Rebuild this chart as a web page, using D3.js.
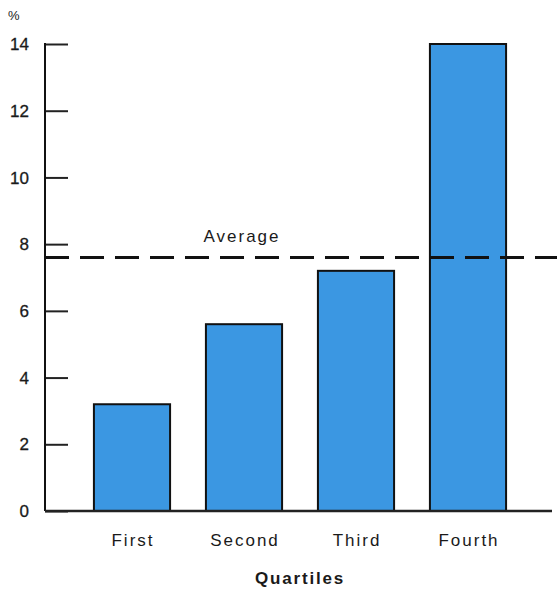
<!DOCTYPE html>
<html><head><meta charset="utf-8">
<script src="https://cdn.jsdelivr.net/npm/d3@7/dist/d3.min.js"></script>
<style>body{margin:0;background:#fff}svg{display:block}text{font-family:"Liberation Sans",Arial,sans-serif}</style>
</head><body><svg id="c" width="557" height="592"></svg>
<script>
const categories = ["First", "Second", "Third", "Fourth"];
const values = [3.2, 5.6, 7.2, 14.0];
const averageValue = 7.6;
const yTicks = [0, 2, 4, 6, 8, 10, 12, 14];

const svg = d3.select("#c");
const axisX = 45;
const y = d3.scaleLinear().domain([0, 14]).range([511, 44]);
const x = d3.scaleBand().domain(categories).range([76, 524]).paddingInner(0.32).paddingOuter(0.16);

// bars
svg.selectAll("rect.bar").data(values).join("rect")
  .attr("class", "bar")
  .attr("x", (d, i) => x(categories[i]))
  .attr("width", x.bandwidth())
  .attr("y", d => y(d))
  .attr("height", d => y(0) - y(d))
  .attr("fill", "#3b97e2")
  .attr("stroke", "#111")
  .attr("stroke-width", 2);

// y axis
const yAxis = d3.axisRight(y).tickValues(yTicks).tickSize(23).tickFormat("");
const gy = svg.append("g").attr("transform", `translate(${axisX},0)`).call(yAxis);
gy.select(".domain").remove();
gy.selectAll(".tick line").attr("stroke", "#222").attr("stroke-width", 2);
svg.append("line").attr("x1", axisX).attr("x2", axisX).attr("y1", y(14) - 1).attr("y2", y(0))
  .attr("stroke", "#111").attr("stroke-width", 2);
svg.selectAll("text.ytick").data(yTicks).join("text")
  .attr("class", "ytick")
  .attr("x", 29).attr("y", d => y(d)).attr("dy", "0.36em")
  .attr("text-anchor", "end").attr("font-size", 17).attr("fill", "#1a1a1a")
  .attr("stroke", "#1a1a1a").attr("stroke-width", 0.3)
  .text(d => d);
svg.append("text").attr("x", 8).attr("y", 20).attr("font-size", 13).attr("fill", "#222").text("%");

// baseline
svg.append("line").attr("x1", axisX).attr("x2", 552).attr("y1", y(0)).attr("y2", y(0))
  .attr("stroke", "#222").attr("stroke-width", 2.5);

// category labels
svg.selectAll("text.cat").data(categories).join("text")
  .attr("class", "cat")
  .attr("x", d => x(d) + x.bandwidth() / 2 + 1).attr("y", 546)
  .attr("text-anchor", "middle").attr("font-size", 17).attr("letter-spacing", 2)
  .attr("fill", "#1a1a1a")
  .text(d => d);
svg.append("text").attr("x", 300).attr("y", 584).attr("text-anchor", "middle")
  .attr("font-size", 17).attr("letter-spacing", 1.8)
  .attr("font-weight", "bold").attr("fill", "#1a1a1a").text("Quartiles");

// average line
svg.append("line").attr("x1", axisX).attr("x2", 557).attr("y1", y(averageValue)).attr("y2", y(averageValue))
  .attr("stroke", "#111").attr("stroke-width", 3).attr("stroke-dasharray", "24,11");
svg.append("text").attr("x", 242).attr("y", y(averageValue) - 15).attr("text-anchor", "middle")
  .attr("font-size", 17).attr("letter-spacing", 2).attr("fill", "#1a1a1a").text("Average");
</script></body></html>
